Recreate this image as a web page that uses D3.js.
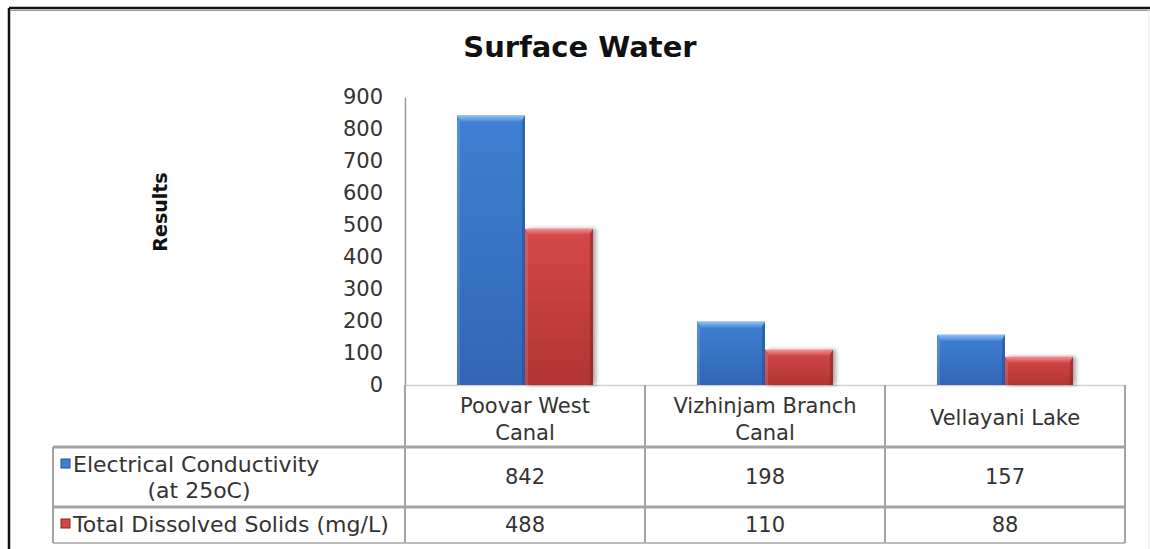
<!DOCTYPE html>
<html><head><meta charset="utf-8">
<script src="https://cdn.jsdelivr.net/npm/d3@7/dist/d3.min.js"></script>
<style>html,body{margin:0;padding:0;background:#fff;}svg{display:block;}</style>
</head><body>
<script>
const categories = [["Poovar West","Canal"],["Vizhinjam Branch","Canal"],["Vellayani Lake"]];
const seriesNames = [["Electrical Conductivity","(at 25oC)"],["Total Dissolved Solids (mg/L)"]];
const ecValues = [842,198,157];
const tdsValues = [488,110,88];
const yTicks = [0,100,200,300,400,500,600,700,800,900];
const title = "Surface Water";
const yLabel = "Results";

const W = 1150, H = 549;
const svg = d3.select("body").append("svg").attr("width",W).attr("height",H);
const defs = svg.append("defs");
const FONT = "DejaVu Sans, Verdana, sans-serif";

function grad(id, stops, x2, y2){
  const g = defs.append("linearGradient").attr("id",id).attr("x1",0).attr("y1",0).attr("x2",x2).attr("y2",y2);
  stops.forEach(s=>g.append("stop").attr("offset",s[0]).attr("stop-color",s[1]));
}
grad("blueBody",[[0,"#3f80d2"],[1,"#3266b4"]],0,1);
grad("redBody",[[0,"#d44848"],[1,"#b23434"]],0,1);
grad("blueTop",[[0,"#8fc0f5"],[1,"#4a8ad8"]],0,1);
grad("redTop",[[0,"#f29090"],[1,"#d54a4a"]],0,1);
const f = defs.append("filter").attr("id","shadow").attr("x","-20%").attr("y","-10%").attr("width","140%").attr("height","120%");
f.append("feDropShadow").attr("dx",3).attr("dy",0).attr("stdDeviation",2).attr("flood-color","#000").attr("flood-opacity",0.35);

// frame
svg.append("line").attr("x1",9).attr("x2",9).attr("y1",8).attr("y2",H).attr("stroke","#111").attr("stroke-width",2.5);
svg.append("line").attr("x1",9).attr("x2",W).attr("y1",8).attr("y2",8).attr("stroke","#111").attr("stroke-width",2.5);
svg.append("line").attr("x1",10).attr("x2",W).attr("y1",10.5).attr("y2",10.5).attr("stroke","#999").attr("stroke-width",1);
svg.append("line").attr("x1",1148.5).attr("x2",1148.5).attr("y1",10).attr("y2",H).attr("stroke","#eee").attr("stroke-width",1);

// title
svg.append("text").attr("x",580).attr("y",57).attr("text-anchor","middle")
  .attr("font-family",FONT).attr("font-weight","bold").attr("font-size",29).attr("fill","#111").text(title);

// scales
const x0 = d3.scaleBand().domain(d3.range(categories.length)).range([405,1125]).padding(0);
const x1 = d3.scaleBand().domain([0,1]).range([0,x0.bandwidth()]).paddingInner(0).paddingOuter(0.765);
const y = d3.scaleLinear().domain([0,900]).range([385,97]);

// y axis
const yAxis = d3.axisLeft(y).tickValues(yTicks).tickSize(0).tickPadding(22);
const ga = svg.append("g").attr("transform","translate(405,0)").call(yAxis);
ga.select(".domain").attr("stroke","#9a9a9a").attr("stroke-width",1.5);
ga.selectAll("text").attr("font-family",FONT).attr("font-size",21).attr("fill","#333");

svg.append("text").attr("transform","translate(167,212) rotate(-90)").attr("text-anchor","middle")
  .attr("font-family",FONT).attr("font-weight","bold").attr("font-size",19).attr("fill","#111").text(yLabel);

// baseline
svg.append("line").attr("x1",405).attr("x2",1125).attr("y1",385.5).attr("y2",385.5).attr("stroke","#d0d0d0").attr("stroke-width",1.5);

// bars
const series = [ecValues, tdsValues];
const fills = [["url(#blueBody)","url(#blueTop)","#23508f"],["url(#redBody)","url(#redTop)","#8a2222"]];
categories.forEach((c,i)=>{
  series.forEach((vals,s)=>{
    const bx = x0(i)+x1(s), bw = x1.bandwidth(), by = y(vals[i]), bh = y(0)-y(vals[i]);
    const g = svg.append("g");
    if(s===1) g.attr("filter","url(#shadow)");
    g.append("rect").attr("x",bx).attr("y",by).attr("width",bw).attr("height",bh).attr("fill",fills[s][0]);
    const bev = Math.min(6, bh/2);
    g.append("path").attr("d",`M${bx},${by} L${bx+bw},${by} L${bx+bw-4},${by+bev} L${bx+4},${by+bev} Z`).attr("fill",fills[s][1]);
    g.append("path").attr("d",`M${bx+bw},${by} L${bx+bw},${by+bh} L${bx+bw-3},${by+bh} L${bx+bw-3},${by+bev} Z`).attr("fill",fills[s][2]).attr("opacity",0.55);
    g.append("path").attr("d",`M${bx},${by} L${bx+3},${by+bev} L${bx+3},${by+bh} L${bx},${by+bh} Z`).attr("fill","#fff").attr("opacity",0.12);
  });
});

// table
const gridC = "#a3a3a3";
const tl = 53, tr = 1125, rH0 = 385, rH1 = 447, rR1 = 507, rR2 = 543;
function hl(x1_,x2_,yy,w){svg.append("line").attr("x1",x1_).attr("x2",x2_).attr("y1",yy).attr("y2",yy).attr("stroke",gridC).attr("stroke-width",w);}
function vl(xx,y1_,y2_,w){svg.append("line").attr("x1",xx).attr("x2",xx).attr("y1",y1_).attr("y2",y2_).attr("stroke",gridC).attr("stroke-width",w);}
hl(tl,tr,rH1,3); hl(tl,tr,rR1,3); hl(tl,tr,rR2,1.5);
vl(tl,rH1,rR2,2);
[405,645,885,1125].forEach(xx=>vl(xx,rH0,rR2,2));

function txt(x,yy,s,anchor,fs){return svg.append("text").attr("x",x).attr("y",yy).attr("text-anchor",anchor||"middle")
  .attr("font-family",FONT).attr("font-size",fs||21).attr("fill","#333").text(s);}

categories.forEach((c,i)=>{
  const cx = x0(i)+x0.bandwidth()/2;
  if(c.length===2){ txt(cx,413,c[0]); txt(cx,440,c[1]); }
  else txt(cx,425,c[0]);
  txt(cx,484,ecValues[i]);
  txt(cx,532,tdsValues[i]);
});

const mk = [["#3f80d2","#23508f"],["#d44848","#8a2222"]];
[459,519].forEach((my,s)=>{
  svg.append("rect").attr("x",61).attr("y",my).attr("width",9).attr("height",9).attr("fill",mk[s][0]).attr("stroke",mk[s][1]).attr("stroke-width",1);
});
txt(73,472,seriesNames[0][0],"start",22);
txt(199,498,seriesNames[0][1],"middle",22);
txt(73,532,seriesNames[1][0],"start",22);
</script>
</body></html>
